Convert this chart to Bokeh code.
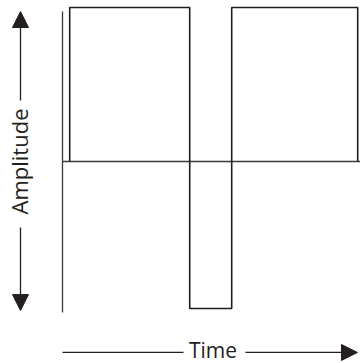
from bokeh.plotting import figure
from bokeh.models import Range1d, Arrow, NormalHead, Label
from bokeh.embed import file_html
from bokeh.resources import INLINE
import math

# ---- data (time in arbitrary units, amplitude normalised) ----
edge_times = [0.06, 1.06, 1.41, 2.46]      # transitions of the square wave
levels = [1.0, -0.955, 1.0]                 # level between successive transitions
axis_time = [0.0, 2.6]                      # horizontal axis extent
axis_amp = [0.974, -0.981]                  # vertical axis extent

# build step path
wx, wy = [edge_times[0]], [0.0]
for i, lv in enumerate(levels):
    wx += [edge_times[i], edge_times[i + 1]]
    wy += [lv, lv]
wx.append(edge_times[-1]); wy.append(0.0)

W, H = 360, 363
p = figure(width=W, height=H, output_backend="svg", toolbar_location=None,
           x_range=Range1d(-0.5167, 2.4833), y_range=Range1d(-1.3117, 1.04545),
           min_border=0, outline_line_color=None)
p.axis.visible = False
p.grid.visible = False
p.background_fill_color = "white"
p.border_fill_color = "white"

# axes
p.line([axis_time[0], axis_time[0]], axis_amp, line_color="#3a3a3a", line_width=1.3)
p.line(axis_time, [0, 0], line_color="#3a3a3a", line_width=1.3)

# wave
p.line(wx, wy, line_color="#1e1e1e", line_width=1.6)

font = "Open Sans"
col = "#231f20"

# amplitude arrows
ax_x = -0.35
p.add_layout(Arrow(end=NormalHead(size=16, fill_color=col, line_color=col, line_width=1),
                   x_start=ax_x, y_start=0.396, x_end=ax_x, y_end=0.974,
                   line_color=col, line_width=1.3))
p.add_layout(Arrow(end=NormalHead(size=16, fill_color=col, line_color=col, line_width=1),
                   x_start=ax_x, y_start=-0.429, x_end=ax_x, y_end=-0.968,
                   line_color=col, line_width=1.3))
p.add_layout(Label(x=-0.3625, y=0.0, text="Amplitude", angle=math.pi / 2,
                   text_align="center", text_baseline="middle",
                   text_font=font, text_font_size="22px", text_color=col))

# time arrow
ty = -1.240
p.line([0.0, 1.008], [ty, ty], line_color=col, line_width=1.3)
p.add_layout(Arrow(end=NormalHead(size=16, fill_color=col, line_color=col, line_width=1),
                   x_start=1.525, y_start=ty, x_end=2.458, y_end=ty,
                   line_color=col, line_width=1.3))
p.add_layout(Label(x=1.254, y=-1.227, text="Time",
                   text_align="center", text_baseline="middle",
                   text_font=font, text_font_size="21px", text_color=col))

open("out.html", "w").write(file_html(p, INLINE))
